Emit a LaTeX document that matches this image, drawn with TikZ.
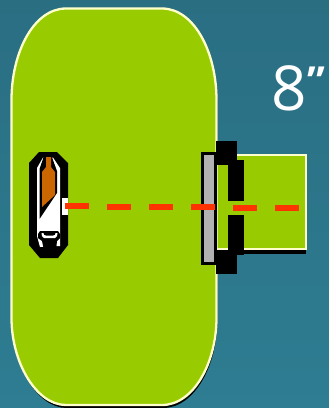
\documentclass[tikz,border=0pt]{standalone}
\usepackage{fontspec}
\setmainfont{Open Sans}
\definecolor{grassc}{HTML}{99CC00}
\definecolor{edgec}{HTML}{FFFFCC}
\definecolor{dashc}{HTML}{FF3300}
\definecolor{brownc}{HTML}{CC6600}
\definecolor{greyc}{HTML}{B2B2B2}
\definecolor{bgtop}{HTML}{2A6E82}
\definecolor{bgbot}{HTML}{2E7D92}
\tikzset{
 grassshape/.style={fill=grassc,draw=edgec,line width=2.3pt},
 blackbar/.style={fill=black,draw=none},
 reddash/.style={fill=dashc,draw=none}
}
\newcommand{\fieldpath}{(11.5,100) .. controls (11.5,52) and (34,8.5) .. (66,8.5) -- (162,8.5) .. controls (194,8.5) and (216.5,52) .. (216.5,100) -- (216.5,318) .. controls (216.5,362) and (194,405) .. (162,405) -- (66,405) .. controls (36,405) and (11.5,362) .. (11.5,318) -- cycle}
\begin{document}
\begin{tikzpicture}[x=1pt,y=-1pt]
\useasboundingbox (0,0) rectangle (329,408);
\shade[top color=bgtop,bottom color=bgbot] (0,0) rectangle (329,408);
% shadows
\fill[black,shift={(0.8pt,-3pt)}] \fieldpath;
\fill[black] (218,160) rectangle (306,254);
% pad
\draw[grassshape] (216,155) rectangle (306,249);
% main field
\draw[grassshape] \fieldpath;
% gate
\fill[black] (201,152) rectangle (217,265);
\fill[greyc] (204,155) rectangle (214,262);
\fill[blackbar] (216,141) rectangle (237,165);
\fill[blackbar] (228,160) rectangle (244,201);
\fill[blackbar] (228,215) rectangle (244,255);
\fill[blackbar] (216,250) rectangle (237,274);
% robot
\fill[black] (39,152) -- (57,152) -- (68,163) -- (68,245) -- (58,258) -- (40,258) -- (29,245) -- (29,163) -- cycle;
\fill[white] (43,157.5) -- (53,157.5) -- (60,168) -- (60,246) -- (40,247) -- (37,236) -- (37,168) -- cycle;
\fill[black] (44,156) -- (51.5,156) -- (57,171) -- (57,193) -- (39.5,219) -- (39.5,169) -- cycle;
\fill[brownc] (46,157) -- (51,157) -- (51,167) -- (55,172) -- (55,195) -- (42,207) -- (42,172) -- (46,167) -- cycle;
\fill[black] (40,231) -- (58,231) -- (60,234) -- (60,238) -- (57,241) -- (56,250) -- (50,258) -- (44,250) -- (42,241) -- (38,238) -- (38,234) -- cycle;
\fill[white] (41.5,233) -- (43.5,233) -- (44,235) -- (46,235.5) -- (53,235.5) -- (55,235) -- (55.5,233) -- (57.5,233) -- (57,236) -- (55,238) -- (44,238) -- (42,236) -- cycle;
\fill[white] (62,198) rectangle (68,215);
% dashes
\fill[reddash] (65,203) rectangle (89,209);
\fill[reddash] (107,203.5) rectangle (131,209.5);
\fill[reddash] (149,204) rectangle (173,210);
\fill[reddash] (191,204) rectangle (215,210);
\fill[reddash] (233,204.5) rectangle (257,210.5);
\fill[reddash] (275,205) rectangle (299,211);
\node[anchor=base west,inner sep=0pt,text=white,font=\fontsize{62}{62}\selectfont] (lab) at (271.5,110.5) {8\raisebox{15pt}{\fontsize{40}{40}\selectfont\bfseries ”}};
\end{tikzpicture}
\end{document}
